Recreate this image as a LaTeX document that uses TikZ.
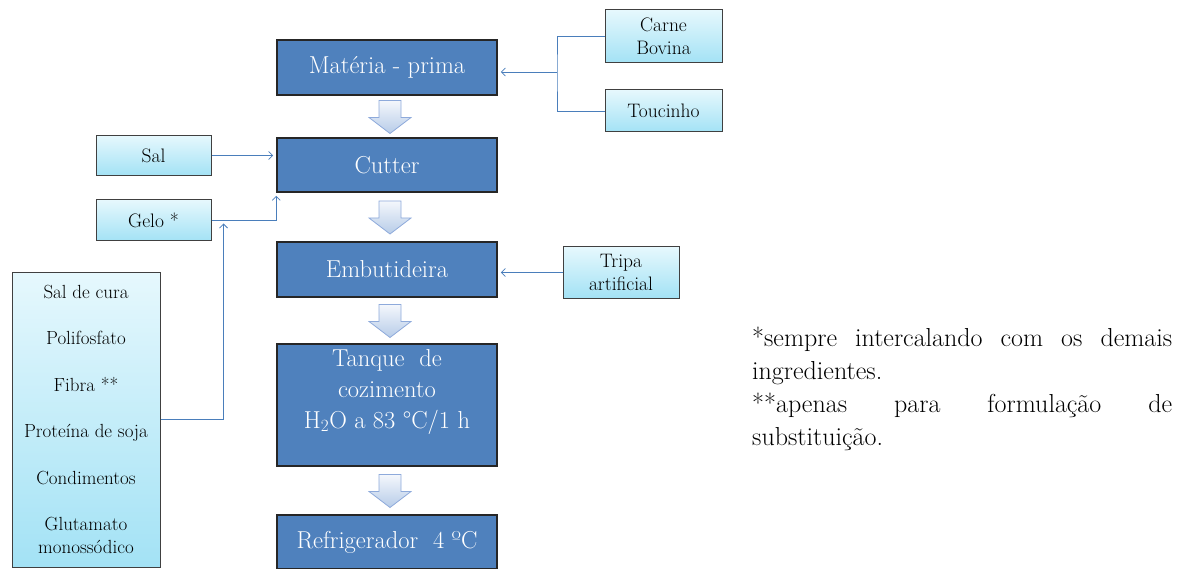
\documentclass[tikz,border=0pt]{standalone}
\usepackage{fontspec}
\usetikzlibrary{calc,arrows.meta}
\definecolor{boxblue}{HTML}{4F81BD}
\definecolor{linkblue}{HTML}{4A7EBB}
\definecolor{lighttop}{HTML}{E6F8FD}
\definecolor{lightbot}{HTML}{A3E2F5}
\definecolor{arrtop}{HTML}{F4F7FC}
\definecolor{arrbot}{HTML}{B7CCE8}
\definecolor{arrline}{HTML}{8EAADB}

\begin{document}
\begin{tikzpicture}[x=1pt,y=-1pt,
  stage/.style={draw=black!85,line width=1.6pt,fill=boxblue,text=white,
    font=\fontsize{24.5}{31}\selectfont,minimum width=220pt,align=center,inner sep=2pt},
  input/.style={draw=black!75,line width=1pt,top color=lighttop,bottom color=lightbot,
    font=\fontsize{19.5}{23}\selectfont,align=center,inner sep=1pt},
  link/.style={draw=linkblue,line width=.8pt},
  feed/.style={link,-{Straight Barb[length=4pt,width=8pt]},shorten >=3pt},
  blockarr/.style={draw=arrline,line width=.8pt,top color=arrtop,bottom color=arrbot}]
  \useasboundingbox (0,0) rectangle (1185,569);

  % process steps
  \node[stage,minimum height=55pt] (mp) at (387,67.5) {Matéria - prima};
  \node[stage,minimum height=54pt] (cut) at (387,165) {Cutter};
  \node[stage,minimum height=55pt] (emb) at (387,269.5) {Embutideira};
  \node[stage,minimum height=122pt] (tanq) at (387,405)
    {\parbox[c][112pt][t]{214pt}{\centering Tanque \ de\\cozimento\\H\textsubscript{2}O a 83 °C/1 h}};
  \node[stage,minimum height=54pt] (refr) at (387,542) {Refrigerador \ 4 ºC};

  % inputs
  \node[input,minimum width=117pt,minimum height=53pt] (carne) at (663.5,36.5) {Carne\\Bovina};
  \node[input,minimum width=117pt,minimum height=42pt] (touc) at (663.5,111) {Toucinho};
  \node[input,minimum width=115pt,minimum height=40pt] (sal) at (153.5,155.5) {Sal};
  \node[input,minimum width=115pt,minimum height=41pt] (gelo) at (153.5,220.5) {Gelo *};
  \node[input,minimum width=116pt,minimum height=51pt] (tripa) at (621,272.5) {Tripa\\artificial};
  \node[input,minimum width=148pt,minimum height=295pt,font=\fontsize{19}{23}\selectfont] (ingr) at (86,419.5)
    {Sal de cura\\[23.5pt]Polifosfato\\[23.5pt]Fibra **\\[23.5pt]Proteína de soja\\[23.5pt]Condimentos\\[23.5pt]Glutamato\\monossódico};

  % connectors
  \coordinate (mj) at (557,72);
  \coordinate (gj) at ($(gelo.east)+(12,0)$);
  \draw[link] (carne.west) -| (mj) |- (touc.west);
  \draw[feed] (mj) -- (mj -| mp.east);
  \draw[feed] (sal.east) -- (sal.east -| cut.west);
  \draw[feed] (gelo.east) -| (cut.south west);
  \draw[feed] (ingr.east) -| (gj);
  \draw[feed] (tripa.west) -- (tripa.west -| emb.east);

  % block arrows
  \foreach \a/\b in {mp/cut,cut/emb,emb/tanq,tanq/refr}
    \draw[blockarr] ($(\a.south)!.5!(\b.north)+(-8,-16)$) -- ++(22,0) -- ++(0,17) -- ++(10,0)
      -- ++(-21,16) -- ++(-21,-16) -- ++(10,0) -- cycle;

  % notes
  \node[anchor=north west,align=left,inner sep=0,font=\fontsize{26}{33}\selectfont] (note) at (752,327)
    {\makebox[420pt][s]{*sempre intercalando com os demais}\\ingredientes.\\
     \makebox[420pt][s]{**apenas para formulação de}\\substituição.};
\end{tikzpicture}
\end{document}
